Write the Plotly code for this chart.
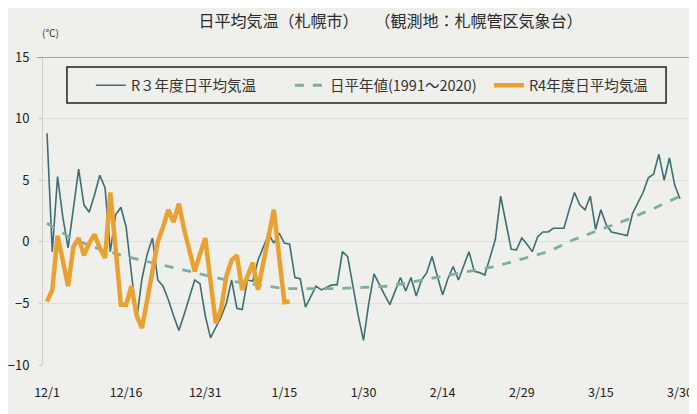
import plotly.graph_objects as go

# day index 0 = 12/1 ... 120 = 3/30
tick_days = [0, 15, 30, 45, 60, 75, 90, 105, 120]
tick_labels = ["12/1", "12/16", "12/31", "1/15", "1/30", "2/14", "2/29", "3/15", "3/30"]

r3_temp = [
    8.8, -0.8, 5.3, 2.0, -0.5, 2.8, 5.9, 3.0, 2.4, 3.8,
    5.4, 4.4, -0.8, 2.2, 2.8, 1.2, -2.5, -6.3, -3.0, -1.0,
    0.3, -3.1, -3.6, -4.7, -6.0, -7.2, -5.9, -4.5, -3.1, -3.4,
    -6.0, -7.8, -6.9, -6.1, -5.0, -3.1, -5.4, -5.5, -3.1, -3.2,
    -1.5, -0.5, 0.6, -0.1, 0.7, -0.1, -0.2, -2.9, -3.0, -5.3,
    -4.5, -3.6, -3.9, -3.7, -3.5, -3.5, -0.8, -1.2, -3.6, -6.0,
    -8.0, -5.0, -2.6, -3.5, -4.3, -5.1, -4.0, -2.9, -4.0, -2.9,
    -4.4, -3.1, -2.5, -1.2, -2.8, -4.3, -3.0, -2.0, -3.1, -2.0,
    -0.8, -2.4, -2.5, -2.7, -1.2, 0.2, 3.7, 1.5, -0.6, -0.65,
    0.3, -0.2, -0.8, 0.4, 0.8, 0.8, 1.1, 1.1, 1.1, 2.6,
    4.0, 3.0, 2.6, 3.7, 1.0, 2.6, 1.4, 0.8, 0.7, 0.6,
    0.5, 2.3, 3.2, 4.0, 5.2, 5.5, 7.1, 5.0, 6.8, 4.6,
    3.5,
]

normal_days = [0, 5, 10, 15, 20, 25, 30, 35, 40, 45, 50, 55, 60,
               65, 70, 75, 80, 85, 90, 95, 100, 105, 110, 115, 120]
normal_temp = [1.5, 0.2, -0.6, -1.2, -1.7, -2.2, -2.7, -3.2, -3.5, -3.8, -3.8, -3.8, -3.7,
               -3.6, -3.2, -2.8, -2.4, -2.0, -1.4, -0.8, 0.2, 1.0, 1.8, 2.7, 3.7]

r4_temp = [
    -4.85, -3.9, 0.5, -1.5, -3.6, -0.4, 0.3, -1.1, -0.1, 0.6,
    -0.5, -1.3, 4.0, -0.5, -5.1, -5.1, -3.6, -6.0, -7.0, -4.7,
    -2.3, 0.0, 1.2, 2.6, 1.6, 3.1, 1.0, -0.7, -2.4, -1.0,
    0.3, -3.2, -6.6, -5.5, -2.8, -1.5, -1.1, -3.9, -2.8, -1.7,
    -3.9, -1.7, 0.4, 2.6, -1.2, -4.9, -4.85,
]

r3_days = list(range(len(r3_temp)))
r4_days = list(range(len(r4_temp)))

FONT = "Noto Sans CJK JP"
BG = "#efefec"

fig = go.Figure()
fig.add_trace(go.Scatter(
    x=r3_days, y=r3_temp, mode="lines", name="R３年度日平均気温",
    line=dict(color="#3c6f74", width=1.6),
))
fig.add_trace(go.Scatter(
    x=normal_days, y=normal_temp, mode="lines", name="日平年値(1991～2020)",
    line=dict(color="#7fada0", width=2.8, dash="dash"),
))
fig.add_trace(go.Scatter(
    x=r4_days, y=r4_temp, mode="lines", name="R4年度日平均気温",
    line=dict(color="#e9a232", width=4.5),
))

# page has an 8px body margin, so the figure is sized to fit the 697x414 window
fig.update_layout(
    width=689, height=406,
    margin=dict(l=35, r=7, t=49, b=49),
    paper_bgcolor=BG, plot_bgcolor=BG,
    font=dict(family=FONT, size=13, color="#333333"),
    title=dict(text="日平均気温（札幌市）　　（観測地：札幌管区気象台）",
               x=0.555, xanchor="center", y=0.966, yanchor="middle",
               font=dict(size=16, color="#2b2b2b", family=FONT)),
    showlegend=True,
    legend=dict(
        orientation="h", x=0.074, y=0.96, xanchor="left", yanchor="top",
        borderwidth=0, bgcolor="rgba(0,0,0,0)",
        font=dict(size=14.5, color="#333333", family=FONT),
        entrywidth=154, entrywidthmode="pixels", itemwidth=30,
        tracegroupgap=0,
    ),
    xaxis=dict(
        range=[-0.76, 121.9], tickmode="array", tickvals=tick_days, ticktext=tick_labels,
        showgrid=False, zeroline=False, showline=False, ticks="", automargin=False,
        ticklabelstandoff=18, ticklabeloverflow="allow",
        tickfont=dict(size=12.5, color="#222222"),
    ),
    yaxis=dict(
        range=[-10, 15], tickvals=[-10, -5, 0, 5, 10, 15], automargin=False,
        showgrid=True, gridcolor="#dedede", gridwidth=1, zeroline=False,
        showline=True, linecolor="#cfcfcf", linewidth=1,
        ticks="outside", ticklen=3, tickcolor="#c8c8c8",
        ticklabelstandoff=7, ticklabeloverflow="allow",
        tickfont=dict(size=13, color="#222222"),
    ),
    shapes=[
        dict(type="line", xref="paper", yref="y", x0=-0.01, x1=1.0, y0=15, y1=15,
             line=dict(color="#6f9494", width=1.5)),
        dict(type="rect", xref="paper", yref="paper", x0=0.037, x1=0.963,
             y0=0.851, y1=0.9675, line=dict(color="#222222", width=1.5),
             fillcolor="rgba(0,0,0,0)", layer="above"),
    ],
    annotations=[dict(text="(℃)", xref="paper", yref="paper", x=-0.005, y=1.08,
                      xanchor="left", yanchor="middle", showarrow=False,
                      font=dict(size=10, color="#333333", family=FONT))],
)

fig.write_html("out.html")
